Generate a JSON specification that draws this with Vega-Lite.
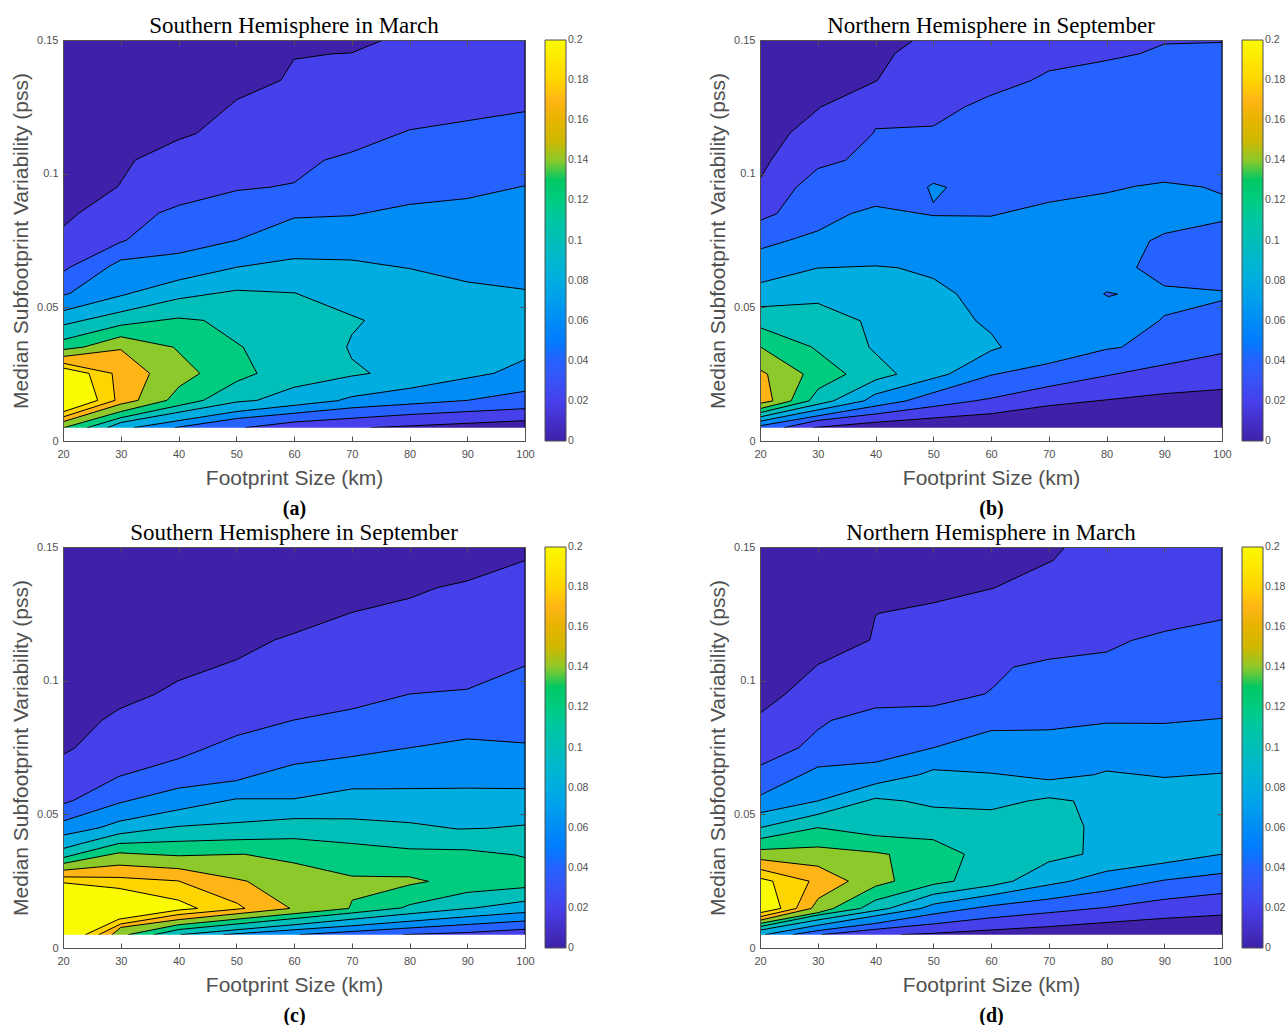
{"$schema":"https://vega.github.io/schema/vega-lite/v6.json","background":"white","padding":{"left":10,"top":15,"right":0,"bottom":0},"bounds":"flush","columns":2,"spacing":{"row":106,"column":235},"resolve":{"scale":{"fill":"independent"},"legend":{"fill":"independent"}},
"config":{"view":{"stroke":null},"axis":{"grid":false,"labelFlush":false,"labelFont":"Liberation Sans","labelFontSize":11,"labelColor":"#505050","titleFont":"Liberation Sans","titleFontSize":21,"titleColor":"#505050","titleFontWeight":"normal","domainColor":"#505050","tickColor":"#505050","domainWidth":1,"tickWidth":1},"title":{"font":"Liberation Serif","fontSize":23,"fontWeight":"normal","color":"black","offset":-4},"legend":{"labelFont":"Liberation Sans","labelFontSize":10.5,"labelColor":"#505050","labelOffset":5}},
"datasets":{
"a":[
{"n":0,"l":0,"x":20,"y":0.15},{"n":0,"l":0,"x":100,"y":0.15},{"n":0,"l":0,"x":100,"y":0},{"n":0,"l":0,"x":20,"y":0},
{"n":1,"l":0.02,"x":20,"y":0.0801},{"n":1,"l":0.02,"x":22.6,"y":0.085},{"n":1,"l":0.02,"x":29.5,"y":0.0952},{"n":1,"l":0.02,"x":32.5,"y":0.1051},{"n":1,"l":0.02,"x":40,"y":0.1127},{"n":1,"l":0.02,"x":43.1,"y":0.115},{"n":1,"l":0.02,"x":50.1,"y":0.1277},{"n":1,"l":0.02,"x":57.7,"y":0.1349},{"n":1,"l":0.02,"x":60,"y":0.1428},{"n":1,"l":0.02,"x":66.5,"y":0.1448},{"n":1,"l":0.02,"x":70,"y":0.1452},{"n":1,"l":0.02,"x":75.4,"y":0.15},{"n":1,"l":0.02,"x":100,"y":0.15},{"n":1,"l":0.02,"x":100,"y":0.0076},{"n":1,"l":0.02,"x":73.4,"y":0.005},{"n":1,"l":0.02,"x":73.4,"y":0},{"n":1,"l":0.02,"x":20,"y":0},
{"n":2,"l":0.04,"x":20,"y":0.0633},{"n":2,"l":0.04,"x":21.2,"y":0.065},{"n":2,"l":0.04,"x":30,"y":0.0744},{"n":2,"l":0.04,"x":31,"y":0.0751},{"n":2,"l":0.04,"x":36.6,"y":0.0853},{"n":2,"l":0.04,"x":40,"y":0.0881},{"n":2,"l":0.04,"x":50.1,"y":0.0937},{"n":2,"l":0.04,"x":56,"y":0.095},{"n":2,"l":0.04,"x":60,"y":0.0966},{"n":2,"l":0.04,"x":65.2,"y":0.105},{"n":2,"l":0.04,"x":70,"y":0.1081},{"n":2,"l":0.04,"x":80,"y":0.1164},{"n":2,"l":0.04,"x":100,"y":0.1232},{"n":2,"l":0.04,"x":100,"y":0.0121},{"n":2,"l":0.04,"x":80,"y":0.0099},{"n":2,"l":0.04,"x":60,"y":0.0071},{"n":2,"l":0.04,"x":51.6,"y":0.005},{"n":2,"l":0.04,"x":51.6,"y":0},{"n":2,"l":0.04,"x":20,"y":0},
{"n":3,"l":0.06,"x":20,"y":0.0545},{"n":3,"l":0.06,"x":21.2,"y":0.0552},{"n":3,"l":0.06,"x":27.9,"y":0.0652},{"n":3,"l":0.06,"x":30,"y":0.0677},{"n":3,"l":0.06,"x":40,"y":0.0702},{"n":3,"l":0.06,"x":50.1,"y":0.0751},{"n":3,"l":0.06,"x":60,"y":0.0834},{"n":3,"l":0.06,"x":70,"y":0.0843},{"n":3,"l":0.06,"x":80,"y":0.0885},{"n":3,"l":0.06,"x":90,"y":0.0907},{"n":3,"l":0.06,"x":100,"y":0.0955},{"n":3,"l":0.06,"x":100,"y":0.0186},{"n":3,"l":0.06,"x":90,"y":0.0152},{"n":3,"l":0.06,"x":70,"y":0.0124},{"n":3,"l":0.06,"x":50.1,"y":0.0084},{"n":3,"l":0.06,"x":39.4,"y":0.005},{"n":3,"l":0.06,"x":39.4,"y":0},{"n":3,"l":0.06,"x":20,"y":0},
{"n":4,"l":0.08,"x":20,"y":0.0487},{"n":4,"l":0.08,"x":30,"y":0.0543},{"n":4,"l":0.08,"x":40,"y":0.0602},{"n":4,"l":0.08,"x":50.1,"y":0.065},{"n":4,"l":0.08,"x":60,"y":0.0682},{"n":4,"l":0.08,"x":70,"y":0.0677},{"n":4,"l":0.08,"x":80,"y":0.0645},{"n":4,"l":0.08,"x":90,"y":0.0595},{"n":4,"l":0.08,"x":100,"y":0.0567},{"n":4,"l":0.08,"x":100,"y":0.0305},{"n":4,"l":0.08,"x":94.6,"y":0.0253},{"n":4,"l":0.08,"x":80,"y":0.0197},{"n":4,"l":0.08,"x":70,"y":0.0166},{"n":4,"l":0.08,"x":67.6,"y":0.0151},{"n":4,"l":0.08,"x":50,"y":0.011},{"n":4,"l":0.08,"x":32.3,"y":0.005},{"n":4,"l":0.08,"x":32.3,"y":0},{"n":4,"l":0.08,"x":20,"y":0},
{"n":5,"l":0.1,"x":20,"y":0.0434},{"n":5,"l":0.1,"x":30,"y":0.0483},{"n":5,"l":0.1,"x":40,"y":0.0532},{"n":5,"l":0.1,"x":50.1,"y":0.0564},{"n":5,"l":0.1,"x":60.2,"y":0.0554},{"n":5,"l":0.1,"x":72.2,"y":0.0451},{"n":5,"l":0.1,"x":70,"y":0.0397},{"n":5,"l":0.1,"x":69.1,"y":0.0351},{"n":5,"l":0.1,"x":70,"y":0.0307},{"n":5,"l":0.1,"x":73.2,"y":0.0253},{"n":5,"l":0.1,"x":70,"y":0.0243},{"n":5,"l":0.1,"x":60,"y":0.0201},{"n":5,"l":0.1,"x":53.6,"y":0.0152},{"n":5,"l":0.1,"x":50.1,"y":0.0146},{"n":5,"l":0.1,"x":30,"y":0.0069},{"n":5,"l":0.1,"x":27.7,"y":0.005},{"n":5,"l":0.1,"x":27.7,"y":0},{"n":5,"l":0.1,"x":20,"y":0},
{"n":6,"l":0.12,"x":20,"y":0.0379},{"n":6,"l":0.12,"x":30,"y":0.0433},{"n":6,"l":0.12,"x":40,"y":0.046},{"n":6,"l":0.12,"x":44.4,"y":0.0451},{"n":6,"l":0.12,"x":51.2,"y":0.0351},{"n":6,"l":0.12,"x":53.6,"y":0.0253},{"n":6,"l":0.12,"x":50.1,"y":0.0223},{"n":6,"l":0.12,"x":44.3,"y":0.0152},{"n":6,"l":0.12,"x":30,"y":0.0087},{"n":6,"l":0.12,"x":24.2,"y":0.005},{"n":6,"l":0.12,"x":24.2,"y":0},{"n":6,"l":0.12,"x":20,"y":0},
{"n":7,"l":0.14,"x":20,"y":0.0342},{"n":7,"l":0.14,"x":23.5,"y":0.0351},{"n":7,"l":0.14,"x":30,"y":0.039},{"n":7,"l":0.14,"x":39.1,"y":0.0351},{"n":7,"l":0.14,"x":43.7,"y":0.0253},{"n":7,"l":0.14,"x":40.1,"y":0.0203},{"n":7,"l":0.14,"x":38,"y":0.0152},{"n":7,"l":0.14,"x":30,"y":0.011},{"n":7,"l":0.14,"x":20.2,"y":0.005},{"n":7,"l":0.14,"x":20.2,"y":0},{"n":7,"l":0.14,"x":20,"y":0},
{"n":8,"l":0.17,"x":20,"y":0.0316},{"n":8,"l":0.17,"x":30,"y":0.0342},{"n":8,"l":0.17,"x":35,"y":0.0253},{"n":8,"l":0.17,"x":33,"y":0.0152},{"n":8,"l":0.17,"x":30,"y":0.0138},{"n":8,"l":0.17,"x":20,"y":0.0072},
{"n":9,"l":0.18,"x":20,"y":0.0291},{"n":9,"l":0.18,"x":28.5,"y":0.0253},{"n":9,"l":0.18,"x":29,"y":0.0152},{"n":9,"l":0.18,"x":20,"y":0.009},
{"n":10,"l":0.2,"x":20,"y":0.0273},{"n":10,"l":0.2,"x":24.5,"y":0.0253},{"n":10,"l":0.2,"x":26,"y":0.0152},{"n":10,"l":0.2,"x":20,"y":0.0109}
],
"b":[
{"n":0,"l":0,"x":20,"y":0.15},{"n":0,"l":0,"x":100,"y":0.15},{"n":0,"l":0,"x":100,"y":0},{"n":0,"l":0,"x":20,"y":0},
{"n":1,"l":0.02,"x":20,"y":0.0981},{"n":1,"l":0.02,"x":21.9,"y":0.105},{"n":1,"l":0.02,"x":25.2,"y":0.1152},{"n":1,"l":0.02,"x":30.5,"y":0.1249},{"n":1,"l":0.02,"x":40.3,"y":0.1348},{"n":1,"l":0.02,"x":43.4,"y":0.145},{"n":1,"l":0.02,"x":46.6,"y":0.15},{"n":1,"l":0.02,"x":100,"y":0.15},{"n":1,"l":0.02,"x":100,"y":0.0193},{"n":1,"l":0.02,"x":90,"y":0.0177},{"n":1,"l":0.02,"x":80,"y":0.0154},{"n":1,"l":0.02,"x":70,"y":0.0132},{"n":1,"l":0.02,"x":60,"y":0.0102},{"n":1,"l":0.02,"x":50,"y":0.0086},{"n":1,"l":0.02,"x":40,"y":0.007},{"n":1,"l":0.02,"x":29.2,"y":0.005},{"n":1,"l":0.02,"x":29.2,"y":0},{"n":1,"l":0.02,"x":20,"y":0},
{"n":2,"l":0.04,"x":20,"y":0.0825},{"n":2,"l":0.04,"x":22.9,"y":0.085},{"n":2,"l":0.04,"x":26.3,"y":0.095},{"n":2,"l":0.04,"x":30,"y":0.1019},{"n":2,"l":0.04,"x":34.8,"y":0.105},{"n":2,"l":0.04,"x":39.5,"y":0.1149},{"n":2,"l":0.04,"x":40,"y":0.1168},{"n":2,"l":0.04,"x":50,"y":0.1178},{"n":2,"l":0.04,"x":55.4,"y":0.1249},{"n":2,"l":0.04,"x":59.7,"y":0.1291},{"n":2,"l":0.04,"x":66.9,"y":0.1348},{"n":2,"l":0.04,"x":70,"y":0.1384},{"n":2,"l":0.04,"x":80,"y":0.1423},{"n":2,"l":0.04,"x":85.8,"y":0.1449},{"n":2,"l":0.04,"x":90,"y":0.1485},{"n":2,"l":0.04,"x":100,"y":0.1491},{"n":2,"l":0.04,"x":100,"y":0.0327},{"n":2,"l":0.04,"x":90,"y":0.0285},{"n":2,"l":0.04,"x":80,"y":0.0244},{"n":2,"l":0.04,"x":70,"y":0.0204},{"n":2,"l":0.04,"x":60,"y":0.016},{"n":2,"l":0.04,"x":57.1,"y":0.015},{"n":2,"l":0.04,"x":50,"y":0.0129},{"n":2,"l":0.04,"x":40,"y":0.0101},{"n":2,"l":0.04,"x":30,"y":0.0077},{"n":2,"l":0.04,"x":24.2,"y":0.005},{"n":2,"l":0.04,"x":24.2,"y":0},{"n":2,"l":0.04,"x":20,"y":0},
{"n":3,"l":0.06,"x":20,"y":0.0718},{"n":3,"l":0.06,"x":25.1,"y":0.0751},{"n":3,"l":0.06,"x":30,"y":0.0786},{"n":3,"l":0.06,"x":35.8,"y":0.0851},{"n":3,"l":0.06,"x":40,"y":0.0878},{"n":3,"l":0.06,"x":50,"y":0.0843},{"n":3,"l":0.06,"x":60,"y":0.0841},{"n":3,"l":0.06,"x":70,"y":0.0893},{"n":3,"l":0.06,"x":80,"y":0.0928},{"n":3,"l":0.06,"x":85,"y":0.0953},{"n":3,"l":0.06,"x":90,"y":0.0968},{"n":3,"l":0.06,"x":96.7,"y":0.095},{"n":3,"l":0.06,"x":100,"y":0.0923},{"n":3,"l":0.06,"x":100,"y":0.0821},{"n":3,"l":0.06,"x":90,"y":0.0776},{"n":3,"l":0.06,"x":87.5,"y":0.0749},{"n":3,"l":0.06,"x":85.2,"y":0.0649},{"n":3,"l":0.06,"x":90,"y":0.058},{"n":3,"l":0.06,"x":100,"y":0.0562},{"n":3,"l":0.06,"x":100,"y":0.0525},{"n":3,"l":0.06,"x":90,"y":0.0469},{"n":3,"l":0.06,"x":89.1,"y":0.045},{"n":3,"l":0.06,"x":82.6,"y":0.035},{"n":3,"l":0.06,"x":80,"y":0.0343},{"n":3,"l":0.06,"x":70,"y":0.029},{"n":3,"l":0.06,"x":60,"y":0.0246},{"n":3,"l":0.06,"x":45.3,"y":0.015},{"n":3,"l":0.06,"x":30,"y":0.0094},{"n":3,"l":0.06,"x":20,"y":0.0057},
{"n":4,"l":0.08,"x":20,"y":0.0592},{"n":4,"l":0.08,"x":30,"y":0.0647},{"n":4,"l":0.08,"x":40,"y":0.0655},{"n":4,"l":0.08,"x":43.9,"y":0.0648},{"n":4,"l":0.08,"x":50,"y":0.0608},{"n":4,"l":0.08,"x":54,"y":0.0551},{"n":4,"l":0.08,"x":57.4,"y":0.0449},{"n":4,"l":0.08,"x":60,"y":0.0403},{"n":4,"l":0.08,"x":61.8,"y":0.035},{"n":4,"l":0.08,"x":60,"y":0.0338},{"n":4,"l":0.08,"x":52.7,"y":0.025},{"n":4,"l":0.08,"x":39.9,"y":0.0175},{"n":4,"l":0.08,"x":38,"y":0.015},{"n":4,"l":0.08,"x":20,"y":0.0074},
{"n":5,"l":0.1,"x":20,"y":0.0502},{"n":5,"l":0.1,"x":30,"y":0.0515},{"n":5,"l":0.1,"x":37.4,"y":0.0449},{"n":5,"l":0.1,"x":38.9,"y":0.035},{"n":5,"l":0.1,"x":43.7,"y":0.025},{"n":5,"l":0.1,"x":40.1,"y":0.0229},{"n":5,"l":0.1,"x":32.7,"y":0.015},{"n":5,"l":0.1,"x":20,"y":0.009},
{"n":6,"l":0.12,"x":20,"y":0.0424},{"n":6,"l":0.12,"x":28.9,"y":0.0352},{"n":6,"l":0.12,"x":34.9,"y":0.025},{"n":6,"l":0.12,"x":30.1,"y":0.0195},{"n":6,"l":0.12,"x":28.5,"y":0.015},{"n":6,"l":0.12,"x":20,"y":0.0106},
{"n":7,"l":0.14,"x":20,"y":0.0353},{"n":7,"l":0.14,"x":27.5,"y":0.025},{"n":7,"l":0.14,"x":25.4,"y":0.015},{"n":7,"l":0.14,"x":20,"y":0.0121},
{"n":8,"l":0.17,"x":20,"y":0.0266},{"n":8,"l":0.17,"x":21.3,"y":0.025},{"n":8,"l":0.17,"x":22.2,"y":0.015},{"n":8,"l":0.17,"x":20,"y":0.0141},
{"n":9,"l":0.06,"x":49,"y":0.095},{"n":9,"l":0.06,"x":50,"y":0.0964},{"n":9,"l":0.06,"x":52.3,"y":0.0949},{"n":9,"l":0.06,"x":50,"y":0.0892},{"n":9,"l":0.06,"x":49,"y":0.095},
{"n":10,"l":0.04,"x":79.5,"y":0.055},{"n":10,"l":0.04,"x":80,"y":0.0558},{"n":10,"l":0.04,"x":81.9,"y":0.0549},{"n":10,"l":0.04,"x":80.3,"y":0.054},{"n":10,"l":0.04,"x":79.5,"y":0.055}
],
"c":[
{"n":0,"l":0,"x":20,"y":0.15},{"n":0,"l":0,"x":100,"y":0.15},{"n":0,"l":0,"x":100,"y":0},{"n":0,"l":0,"x":20,"y":0},
{"n":1,"l":0.02,"x":20,"y":0.0723},{"n":1,"l":0.02,"x":22.1,"y":0.0749},{"n":1,"l":0.02,"x":26.7,"y":0.0851},{"n":1,"l":0.02,"x":29.7,"y":0.0894},{"n":1,"l":0.02,"x":35.8,"y":0.0948},{"n":1,"l":0.02,"x":40,"y":0.1},{"n":1,"l":0.02,"x":50,"y":0.1078},{"n":1,"l":0.02,"x":56.6,"y":0.1152},{"n":1,"l":0.02,"x":60,"y":0.1177},{"n":1,"l":0.02,"x":70,"y":0.1255},{"n":1,"l":0.02,"x":80,"y":0.1308},{"n":1,"l":0.02,"x":84.8,"y":0.1348},{"n":1,"l":0.02,"x":90,"y":0.1373},{"n":1,"l":0.02,"x":100,"y":0.1449},{"n":1,"l":0.02,"x":100,"y":0},{"n":1,"l":0.02,"x":20,"y":0},
{"n":2,"l":0.04,"x":20,"y":0.0539},{"n":2,"l":0.04,"x":21.8,"y":0.0552},{"n":2,"l":0.04,"x":29.7,"y":0.0642},{"n":2,"l":0.04,"x":40,"y":0.0708},{"n":2,"l":0.04,"x":44.9,"y":0.0749},{"n":2,"l":0.04,"x":50,"y":0.0794},{"n":2,"l":0.04,"x":60,"y":0.0853},{"n":2,"l":0.04,"x":70,"y":0.0894},{"n":2,"l":0.04,"x":80,"y":0.095},{"n":2,"l":0.04,"x":84.8,"y":0.0959},{"n":2,"l":0.04,"x":90,"y":0.0968},{"n":2,"l":0.04,"x":100,"y":0.1055},{"n":2,"l":0.04,"x":100,"y":0.007},{"n":2,"l":0.04,"x":90,"y":0.0058},{"n":2,"l":0.04,"x":78.9,"y":0.005},{"n":2,"l":0.04,"x":78.9,"y":0},{"n":2,"l":0.04,"x":20,"y":0},
{"n":3,"l":0.06,"x":20,"y":0.0475},{"n":3,"l":0.06,"x":29.7,"y":0.0542},{"n":3,"l":0.06,"x":40,"y":0.0598},{"n":3,"l":0.06,"x":50,"y":0.0626},{"n":3,"l":0.06,"x":60,"y":0.0687},{"n":3,"l":0.06,"x":70,"y":0.0716},{"n":3,"l":0.06,"x":80,"y":0.0749},{"n":3,"l":0.06,"x":90,"y":0.0782},{"n":3,"l":0.06,"x":100,"y":0.0767},{"n":3,"l":0.06,"x":100,"y":0.0101},{"n":3,"l":0.06,"x":90,"y":0.0088},{"n":3,"l":0.06,"x":61,"y":0.005},{"n":3,"l":0.06,"x":61,"y":0},{"n":3,"l":0.06,"x":20,"y":0},
{"n":4,"l":0.08,"x":20,"y":0.0422},{"n":4,"l":0.08,"x":26.4,"y":0.045},{"n":4,"l":0.08,"x":29.7,"y":0.0474},{"n":4,"l":0.08,"x":40,"y":0.0517},{"n":4,"l":0.08,"x":50,"y":0.0558},{"n":4,"l":0.08,"x":60,"y":0.0558},{"n":4,"l":0.08,"x":70,"y":0.0595},{"n":4,"l":0.08,"x":80,"y":0.0596},{"n":4,"l":0.08,"x":90,"y":0.0598},{"n":4,"l":0.08,"x":100,"y":0.0596},{"n":4,"l":0.08,"x":100,"y":0.0133},{"n":4,"l":0.08,"x":90,"y":0.0117},{"n":4,"l":0.08,"x":70,"y":0.0083},{"n":4,"l":0.08,"x":47.8,"y":0.005},{"n":4,"l":0.08,"x":47.8,"y":0},{"n":4,"l":0.08,"x":20,"y":0},
{"n":5,"l":0.1,"x":20,"y":0.0372},{"n":5,"l":0.1,"x":23.2,"y":0.0391},{"n":5,"l":0.1,"x":29.7,"y":0.0427},{"n":5,"l":0.1,"x":40,"y":0.0455},{"n":5,"l":0.1,"x":50,"y":0.0469},{"n":5,"l":0.1,"x":60,"y":0.0484},{"n":5,"l":0.1,"x":70,"y":0.0483},{"n":5,"l":0.1,"x":80,"y":0.0469},{"n":5,"l":0.1,"x":88.3,"y":0.0445},{"n":5,"l":0.1,"x":93.6,"y":0.0448},{"n":5,"l":0.1,"x":100,"y":0.046},{"n":5,"l":0.1,"x":100,"y":0.0175},{"n":5,"l":0.1,"x":91.4,"y":0.015},{"n":5,"l":0.1,"x":80,"y":0.0128},{"n":5,"l":0.1,"x":60,"y":0.0087},{"n":5,"l":0.1,"x":40.4,"y":0.005},{"n":5,"l":0.1,"x":40.4,"y":0},{"n":5,"l":0.1,"x":20,"y":0},
{"n":6,"l":0.12,"x":20,"y":0.0338},{"n":6,"l":0.12,"x":29.7,"y":0.0391},{"n":6,"l":0.12,"x":40,"y":0.0399},{"n":6,"l":0.12,"x":50,"y":0.0405},{"n":6,"l":0.12,"x":60,"y":0.0409},{"n":6,"l":0.12,"x":70,"y":0.0391},{"n":6,"l":0.12,"x":80,"y":0.0371},{"n":6,"l":0.12,"x":90,"y":0.0367},{"n":6,"l":0.12,"x":98.3,"y":0.0348},{"n":6,"l":0.12,"x":100,"y":0.0338},{"n":6,"l":0.12,"x":100,"y":0.0226},{"n":6,"l":0.12,"x":90,"y":0.0208},{"n":6,"l":0.12,"x":80,"y":0.0162},{"n":6,"l":0.12,"x":78.6,"y":0.015},{"n":6,"l":0.12,"x":70,"y":0.0131},{"n":6,"l":0.12,"x":60,"y":0.011},{"n":6,"l":0.12,"x":40,"y":0.0069},{"n":6,"l":0.12,"x":35.8,"y":0.005},{"n":6,"l":0.12,"x":35.8,"y":0},{"n":6,"l":0.12,"x":20,"y":0},
{"n":7,"l":0.14,"x":20,"y":0.0316},{"n":7,"l":0.14,"x":29.7,"y":0.0356},{"n":7,"l":0.14,"x":40,"y":0.0345},{"n":7,"l":0.14,"x":51.4,"y":0.0351},{"n":7,"l":0.14,"x":60,"y":0.0318},{"n":7,"l":0.14,"x":70,"y":0.0269},{"n":7,"l":0.14,"x":80,"y":0.0266},{"n":7,"l":0.14,"x":83.3,"y":0.0249},{"n":7,"l":0.14,"x":80,"y":0.0236},{"n":7,"l":0.14,"x":70.1,"y":0.0179},{"n":7,"l":0.14,"x":69.5,"y":0.0148},{"n":7,"l":0.14,"x":40,"y":0.0087},{"n":7,"l":0.14,"x":31.3,"y":0.005},{"n":7,"l":0.14,"x":31.3,"y":0},{"n":7,"l":0.14,"x":20,"y":0},
{"n":8,"l":0.17,"x":20,"y":0.0291},{"n":8,"l":0.17,"x":29.7,"y":0.031},{"n":8,"l":0.17,"x":40,"y":0.0297},{"n":8,"l":0.17,"x":49.6,"y":0.026},{"n":8,"l":0.17,"x":51.9,"y":0.025},{"n":8,"l":0.17,"x":59.3,"y":0.0148},{"n":8,"l":0.17,"x":40,"y":0.0106},{"n":8,"l":0.17,"x":30,"y":0.0077},{"n":8,"l":0.17,"x":28.5,"y":0.005},{"n":8,"l":0.17,"x":28.5,"y":0},{"n":8,"l":0.17,"x":20,"y":0},
{"n":9,"l":0.18,"x":20,"y":0.0266},{"n":9,"l":0.18,"x":29.7,"y":0.0264},{"n":9,"l":0.18,"x":40,"y":0.0251},{"n":9,"l":0.18,"x":50.2,"y":0.0167},{"n":9,"l":0.18,"x":51.5,"y":0.0148},{"n":9,"l":0.18,"x":40,"y":0.0125},{"n":9,"l":0.18,"x":30,"y":0.009},{"n":9,"l":0.18,"x":26.2,"y":0.005},{"n":9,"l":0.18,"x":26.2,"y":0},{"n":9,"l":0.18,"x":20,"y":0},
{"n":10,"l":0.2,"x":20,"y":0.0244},{"n":10,"l":0.2,"x":29.7,"y":0.0223},{"n":10,"l":0.2,"x":40,"y":0.0179},{"n":10,"l":0.2,"x":43.3,"y":0.0148},{"n":10,"l":0.2,"x":40,"y":0.0142},{"n":10,"l":0.2,"x":29.7,"y":0.0108},{"n":10,"l":0.2,"x":23.9,"y":0.005},{"n":10,"l":0.2,"x":23.9,"y":0},{"n":10,"l":0.2,"x":20,"y":0}
],
"d":[
{"n":0,"l":0,"x":20,"y":0.15},{"n":0,"l":0,"x":100,"y":0.15},{"n":0,"l":0,"x":100,"y":0},{"n":0,"l":0,"x":20,"y":0},
{"n":1,"l":0.02,"x":20,"y":0.0878},{"n":1,"l":0.02,"x":24.4,"y":0.095},{"n":1,"l":0.02,"x":30,"y":0.106},{"n":1,"l":0.02,"x":39,"y":0.1152},{"n":1,"l":0.02,"x":40,"y":0.1243},{"n":1,"l":0.02,"x":40.6,"y":0.1252},{"n":1,"l":0.02,"x":50,"y":0.1291},{"n":1,"l":0.02,"x":60.5,"y":0.1346},{"n":1,"l":0.02,"x":70.8,"y":0.145},{"n":1,"l":0.02,"x":72.8,"y":0.15},{"n":1,"l":0.02,"x":100,"y":0.15},{"n":1,"l":0.02,"x":100,"y":0.0123},{"n":1,"l":0.02,"x":90,"y":0.0111},{"n":1,"l":0.02,"x":70,"y":0.008},{"n":1,"l":0.02,"x":50,"y":0.0055},{"n":1,"l":0.02,"x":44.4,"y":0.005},{"n":1,"l":0.02,"x":44.4,"y":0},{"n":1,"l":0.02,"x":20,"y":0},
{"n":2,"l":0.04,"x":20,"y":0.0683},{"n":2,"l":0.04,"x":26.7,"y":0.0749},{"n":2,"l":0.04,"x":30,"y":0.0816},{"n":2,"l":0.04,"x":32.3,"y":0.0851},{"n":2,"l":0.04,"x":40,"y":0.0898},{"n":2,"l":0.04,"x":50,"y":0.0905},{"n":2,"l":0.04,"x":58.9,"y":0.095},{"n":2,"l":0.04,"x":60.2,"y":0.0971},{"n":2,"l":0.04,"x":63.9,"y":0.1051},{"n":2,"l":0.04,"x":70,"y":0.108},{"n":2,"l":0.04,"x":80,"y":0.1107},{"n":2,"l":0.04,"x":84.3,"y":0.115},{"n":2,"l":0.04,"x":90,"y":0.1184},{"n":2,"l":0.04,"x":100,"y":0.1228},{"n":2,"l":0.04,"x":100,"y":0.0204},{"n":2,"l":0.04,"x":90,"y":0.0182},{"n":2,"l":0.04,"x":80,"y":0.0152},{"n":2,"l":0.04,"x":70,"y":0.0132},{"n":2,"l":0.04,"x":60,"y":0.0113},{"n":2,"l":0.04,"x":50,"y":0.009},{"n":2,"l":0.04,"x":40,"y":0.007},{"n":2,"l":0.04,"x":30.8,"y":0.005},{"n":2,"l":0.04,"x":30.8,"y":0},{"n":2,"l":0.04,"x":20,"y":0},
{"n":3,"l":0.06,"x":20,"y":0.0571},{"n":3,"l":0.06,"x":30,"y":0.0677},{"n":3,"l":0.06,"x":40,"y":0.0695},{"n":3,"l":0.06,"x":50,"y":0.0749},{"n":3,"l":0.06,"x":60,"y":0.0813},{"n":3,"l":0.06,"x":70,"y":0.0816},{"n":3,"l":0.06,"x":80,"y":0.0841},{"n":3,"l":0.06,"x":90,"y":0.084},{"n":3,"l":0.06,"x":100,"y":0.0859},{"n":3,"l":0.06,"x":100,"y":0.0279},{"n":3,"l":0.06,"x":90,"y":0.0254},{"n":3,"l":0.06,"x":80,"y":0.0214},{"n":3,"l":0.06,"x":70,"y":0.0183},{"n":3,"l":0.06,"x":60,"y":0.0158},{"n":3,"l":0.06,"x":50,"y":0.0127},{"n":3,"l":0.06,"x":40,"y":0.0092},{"n":3,"l":0.06,"x":30,"y":0.0065},{"n":3,"l":0.06,"x":25.7,"y":0.005},{"n":3,"l":0.06,"x":25.7,"y":0},{"n":3,"l":0.06,"x":20,"y":0},
{"n":4,"l":0.08,"x":20,"y":0.0506},{"n":4,"l":0.08,"x":30,"y":0.055},{"n":4,"l":0.08,"x":40,"y":0.0614},{"n":4,"l":0.08,"x":47.7,"y":0.0649},{"n":4,"l":0.08,"x":50,"y":0.0667},{"n":4,"l":0.08,"x":60,"y":0.0654},{"n":4,"l":0.08,"x":70,"y":0.0629},{"n":4,"l":0.08,"x":77.8,"y":0.0648},{"n":4,"l":0.08,"x":80,"y":0.0662},{"n":4,"l":0.08,"x":90,"y":0.0638},{"n":4,"l":0.08,"x":100,"y":0.0654},{"n":4,"l":0.08,"x":100,"y":0.0351},{"n":4,"l":0.08,"x":90,"y":0.0318},{"n":4,"l":0.08,"x":80,"y":0.0287},{"n":4,"l":0.08,"x":73.7,"y":0.025},{"n":4,"l":0.08,"x":70,"y":0.0236},{"n":4,"l":0.08,"x":60,"y":0.0198},{"n":4,"l":0.08,"x":50,"y":0.0164},{"n":4,"l":0.08,"x":47.9,"y":0.0148},{"n":4,"l":0.08,"x":30,"y":0.0085},{"n":4,"l":0.08,"x":20.9,"y":0.005},{"n":4,"l":0.08,"x":20.9,"y":0},{"n":4,"l":0.08,"x":20,"y":0},
{"n":5,"l":0.1,"x":20,"y":0.045},{"n":5,"l":0.1,"x":30,"y":0.05},{"n":5,"l":0.1,"x":40,"y":0.056},{"n":5,"l":0.1,"x":45,"y":0.055},{"n":5,"l":0.1,"x":50,"y":0.0527},{"n":5,"l":0.1,"x":60,"y":0.0517},{"n":5,"l":0.1,"x":66.4,"y":0.055},{"n":5,"l":0.1,"x":70,"y":0.0562},{"n":5,"l":0.1,"x":74.3,"y":0.055},{"n":5,"l":0.1,"x":76.1,"y":0.0453},{"n":5,"l":0.1,"x":75.9,"y":0.0351},{"n":5,"l":0.1,"x":70,"y":0.0322},{"n":5,"l":0.1,"x":63.8,"y":0.025},{"n":5,"l":0.1,"x":60,"y":0.0233},{"n":5,"l":0.1,"x":50,"y":0.0201},{"n":5,"l":0.1,"x":42.4,"y":0.0148},{"n":5,"l":0.1,"x":30,"y":0.0105},{"n":5,"l":0.1,"x":20,"y":0.0067},
{"n":6,"l":0.12,"x":20,"y":0.0409},{"n":6,"l":0.12,"x":30,"y":0.045},{"n":6,"l":0.12,"x":40,"y":0.042},{"n":6,"l":0.12,"x":50,"y":0.0405},{"n":6,"l":0.12,"x":55.4,"y":0.0351},{"n":6,"l":0.12,"x":53.6,"y":0.025},{"n":6,"l":0.12,"x":50,"y":0.0238},{"n":6,"l":0.12,"x":40,"y":0.0179},{"n":6,"l":0.12,"x":37.4,"y":0.0148},{"n":6,"l":0.12,"x":30,"y":0.0123},{"n":6,"l":0.12,"x":20,"y":0.008},
{"n":7,"l":0.14,"x":20,"y":0.0368},{"n":7,"l":0.14,"x":30,"y":0.0378},{"n":7,"l":0.14,"x":40,"y":0.0358},{"n":7,"l":0.14,"x":42.4,"y":0.035},{"n":7,"l":0.14,"x":43.3,"y":0.025},{"n":7,"l":0.14,"x":40,"y":0.0231},{"n":7,"l":0.14,"x":32.7,"y":0.0148},{"n":7,"l":0.14,"x":30,"y":0.0132},{"n":7,"l":0.14,"x":20,"y":0.0092},
{"n":8,"l":0.17,"x":20,"y":0.0331},{"n":8,"l":0.17,"x":30,"y":0.0306},{"n":8,"l":0.17,"x":35.3,"y":0.025},{"n":8,"l":0.17,"x":30.1,"y":0.0185},{"n":8,"l":0.17,"x":28.9,"y":0.0148},{"n":8,"l":0.17,"x":20,"y":0.0104},
{"n":9,"l":0.18,"x":20,"y":0.0294},{"n":9,"l":0.18,"x":28.5,"y":0.025},{"n":9,"l":0.18,"x":26.3,"y":0.0148},{"n":9,"l":0.18,"x":20,"y":0.0117},
{"n":10,"l":0.2,"x":20,"y":0.0261},{"n":10,"l":0.2,"x":22.2,"y":0.025},{"n":10,"l":0.2,"x":23.6,"y":0.0148},{"n":10,"l":0.2,"x":20,"y":0.0132}
]},
"concat":[
{"title":"Southern Hemisphere in March","width":462,"height":401,"resolve":{"axis":{"x":"independent","y":"independent"}},"layer":[
{"data":{"name":"a"},"mark":{"type":"line","stroke":"black","strokeWidth":1,"clip":true},"encoding":{"x":{"field":"x","type":"quantitative","scale":{"domain":[20,100],"nice":false,"zero":false},"axis":{"values":[20,30,40,50,60,70,80,90,100],"tickSize":-5,"labelPadding":12,"title":"Footprint Size (km)","titlePadding":8,"zindex":1}},"y":{"field":"y","type":"quantitative","scale":{"domain":[0,0.15],"nice":false},"axis":{"values":[0,0.05,0.1,0.15],"format":".2~f","tickSize":-5,"labelPadding":10,"title":"Median Subfootprint Variability (pss)","titlePadding":5,"zindex":1}},"fill":{"field":"l","type":"quantitative","scale":{"domain":[0,0.02,0.04,0.05,0.06,0.08,0.1,0.12,0.13,0.14,0.15,0.16,0.17,0.18,0.2],"range":["#3e21a8","#4640eb","#2662ff","#007cff","#008cf5","#00ade0","#00beb8","#00cc80","#00c864","#8dc92b","#d0b800","#e6b400","#ffb515","#ffd500","#fafa00"]},"legend":{"orient":"none","legendX":482,"legendY":0,"title":null,"gradientLength":401,"gradientThickness":21,"gradientStrokeColor":"#505050","gradientStrokeWidth":1,"values":[0,0.02,0.04,0.06,0.08,0.1,0.12,0.14,0.16,0.18,0.2],"format":".2~f","labelOverlap":false,"encode":{"labels":{"update":{"baseline":{"value":"middle"}}}}}},"detail":{"field":"n"},"order":{"value":null}}},
{"data":{"values":[{}]},"mark":{"type":"rect","fill":"white"},"encoding":{"x":{"datum":20,"type":"quantitative","axis":null},"x2":{"datum":100},"y":{"datum":0,"type":"quantitative","axis":null},"y2":{"datum":0.005}}},
{"data":{"values":[{}]},"mark":{"type":"point","opacity":0},"encoding":{"x":{"datum":20,"type":"quantitative","axis":{"orient":"top","values":[20,30,40,50,60,70,80,90,100],"tickSize":-5,"labels":false,"title":null,"zindex":1}},"y":{"datum":0,"type":"quantitative","axis":{"orient":"right","values":[0,0.05,0.1,0.15],"tickSize":-5,"labels":false,"title":null,"zindex":1}}}},
{"data":{"values":[{}]},"mark":{"type":"point","opacity":0},"encoding":{"x":{"datum":20,"type":"quantitative","axis":{"orient":"bottom","domain":false,"ticks":false,"labels":false,"title":"(a)","titleFont":"Liberation Serif","titleFontSize":20,"titleFontWeight":"bold","titleColor":"black","titlePadding":57}},"y":{"datum":0,"type":"quantitative","axis":null}}}
]},
{"title":"Northern Hemisphere in September","width":462,"height":401,"resolve":{"axis":{"x":"independent","y":"independent"}},"layer":[
{"data":{"name":"b"},"mark":{"type":"line","stroke":"black","strokeWidth":1,"clip":true},"encoding":{"x":{"field":"x","type":"quantitative","scale":{"domain":[20,100],"nice":false,"zero":false},"axis":{"values":[20,30,40,50,60,70,80,90,100],"tickSize":-5,"labelPadding":12,"title":"Footprint Size (km)","titlePadding":8,"zindex":1}},"y":{"field":"y","type":"quantitative","scale":{"domain":[0,0.15],"nice":false},"axis":{"values":[0,0.05,0.1,0.15],"format":".2~f","tickSize":-5,"labelPadding":10,"title":"Median Subfootprint Variability (pss)","titlePadding":5,"zindex":1}},"fill":{"field":"l","type":"quantitative","scale":{"domain":[0,0.02,0.04,0.05,0.06,0.08,0.1,0.12,0.13,0.14,0.15,0.16,0.17,0.18,0.2],"range":["#3e21a8","#4640eb","#2662ff","#007cff","#008cf5","#00ade0","#00beb8","#00cc80","#00c864","#8dc92b","#d0b800","#e6b400","#ffb515","#ffd500","#fafa00"]},"legend":{"orient":"none","legendX":482,"legendY":0,"title":null,"gradientLength":401,"gradientThickness":21,"gradientStrokeColor":"#505050","gradientStrokeWidth":1,"values":[0,0.02,0.04,0.06,0.08,0.1,0.12,0.14,0.16,0.18,0.2],"format":".2~f","labelOverlap":false,"encode":{"labels":{"update":{"baseline":{"value":"middle"}}}}}},"detail":{"field":"n"},"order":{"value":null}}},
{"data":{"values":[{}]},"mark":{"type":"rect","fill":"white"},"encoding":{"x":{"datum":20,"type":"quantitative","axis":null},"x2":{"datum":100},"y":{"datum":0,"type":"quantitative","axis":null},"y2":{"datum":0.005}}},
{"data":{"values":[{}]},"mark":{"type":"point","opacity":0},"encoding":{"x":{"datum":20,"type":"quantitative","axis":{"orient":"top","values":[20,30,40,50,60,70,80,90,100],"tickSize":-5,"labels":false,"title":null,"zindex":1}},"y":{"datum":0,"type":"quantitative","axis":{"orient":"right","values":[0,0.05,0.1,0.15],"tickSize":-5,"labels":false,"title":null,"zindex":1}}}},
{"data":{"values":[{}]},"mark":{"type":"point","opacity":0},"encoding":{"x":{"datum":20,"type":"quantitative","axis":{"orient":"bottom","domain":false,"ticks":false,"labels":false,"title":"(b)","titleFont":"Liberation Serif","titleFontSize":20,"titleFontWeight":"bold","titleColor":"black","titlePadding":57}},"y":{"datum":0,"type":"quantitative","axis":null}}}
]},
{"title":"Southern Hemisphere in September","width":462,"height":401,"resolve":{"axis":{"x":"independent","y":"independent"}},"layer":[
{"data":{"name":"c"},"mark":{"type":"line","stroke":"black","strokeWidth":1,"clip":true},"encoding":{"x":{"field":"x","type":"quantitative","scale":{"domain":[20,100],"nice":false,"zero":false},"axis":{"values":[20,30,40,50,60,70,80,90,100],"tickSize":-5,"labelPadding":12,"title":"Footprint Size (km)","titlePadding":8,"zindex":1}},"y":{"field":"y","type":"quantitative","scale":{"domain":[0,0.15],"nice":false},"axis":{"values":[0,0.05,0.1,0.15],"format":".2~f","tickSize":-5,"labelPadding":10,"title":"Median Subfootprint Variability (pss)","titlePadding":5,"zindex":1}},"fill":{"field":"l","type":"quantitative","scale":{"domain":[0,0.02,0.04,0.05,0.06,0.08,0.1,0.12,0.13,0.14,0.15,0.16,0.17,0.18,0.2],"range":["#3e21a8","#4640eb","#2662ff","#007cff","#008cf5","#00ade0","#00beb8","#00cc80","#00c864","#8dc92b","#d0b800","#e6b400","#ffb515","#ffd500","#fafa00"]},"legend":{"orient":"none","legendX":482,"legendY":0,"title":null,"gradientLength":401,"gradientThickness":21,"gradientStrokeColor":"#505050","gradientStrokeWidth":1,"values":[0,0.02,0.04,0.06,0.08,0.1,0.12,0.14,0.16,0.18,0.2],"format":".2~f","labelOverlap":false,"encode":{"labels":{"update":{"baseline":{"value":"middle"}}}}}},"detail":{"field":"n"},"order":{"value":null}}},
{"data":{"values":[{}]},"mark":{"type":"rect","fill":"white"},"encoding":{"x":{"datum":20,"type":"quantitative","axis":null},"x2":{"datum":100},"y":{"datum":0,"type":"quantitative","axis":null},"y2":{"datum":0.005}}},
{"data":{"values":[{}]},"mark":{"type":"point","opacity":0},"encoding":{"x":{"datum":20,"type":"quantitative","axis":{"orient":"top","values":[20,30,40,50,60,70,80,90,100],"tickSize":-5,"labels":false,"title":null,"zindex":1}},"y":{"datum":0,"type":"quantitative","axis":{"orient":"right","values":[0,0.05,0.1,0.15],"tickSize":-5,"labels":false,"title":null,"zindex":1}}}},
{"data":{"values":[{}]},"mark":{"type":"point","opacity":0},"encoding":{"x":{"datum":20,"type":"quantitative","axis":{"orient":"bottom","domain":false,"ticks":false,"labels":false,"title":"(c)","titleFont":"Liberation Serif","titleFontSize":20,"titleFontWeight":"bold","titleColor":"black","titlePadding":57}},"y":{"datum":0,"type":"quantitative","axis":null}}}
]},
{"title":"Northern Hemisphere in March","width":462,"height":401,"resolve":{"axis":{"x":"independent","y":"independent"}},"layer":[
{"data":{"name":"d"},"mark":{"type":"line","stroke":"black","strokeWidth":1,"clip":true},"encoding":{"x":{"field":"x","type":"quantitative","scale":{"domain":[20,100],"nice":false,"zero":false},"axis":{"values":[20,30,40,50,60,70,80,90,100],"tickSize":-5,"labelPadding":12,"title":"Footprint Size (km)","titlePadding":8,"zindex":1}},"y":{"field":"y","type":"quantitative","scale":{"domain":[0,0.15],"nice":false},"axis":{"values":[0,0.05,0.1,0.15],"format":".2~f","tickSize":-5,"labelPadding":10,"title":"Median Subfootprint Variability (pss)","titlePadding":5,"zindex":1}},"fill":{"field":"l","type":"quantitative","scale":{"domain":[0,0.02,0.04,0.05,0.06,0.08,0.1,0.12,0.13,0.14,0.15,0.16,0.17,0.18,0.2],"range":["#3e21a8","#4640eb","#2662ff","#007cff","#008cf5","#00ade0","#00beb8","#00cc80","#00c864","#8dc92b","#d0b800","#e6b400","#ffb515","#ffd500","#fafa00"]},"legend":{"orient":"none","legendX":482,"legendY":0,"title":null,"gradientLength":401,"gradientThickness":21,"gradientStrokeColor":"#505050","gradientStrokeWidth":1,"values":[0,0.02,0.04,0.06,0.08,0.1,0.12,0.14,0.16,0.18,0.2],"format":".2~f","labelOverlap":false,"encode":{"labels":{"update":{"baseline":{"value":"middle"}}}}}},"detail":{"field":"n"},"order":{"value":null}}},
{"data":{"values":[{}]},"mark":{"type":"rect","fill":"white"},"encoding":{"x":{"datum":20,"type":"quantitative","axis":null},"x2":{"datum":100},"y":{"datum":0,"type":"quantitative","axis":null},"y2":{"datum":0.005}}},
{"data":{"values":[{}]},"mark":{"type":"point","opacity":0},"encoding":{"x":{"datum":20,"type":"quantitative","axis":{"orient":"top","values":[20,30,40,50,60,70,80,90,100],"tickSize":-5,"labels":false,"title":null,"zindex":1}},"y":{"datum":0,"type":"quantitative","axis":{"orient":"right","values":[0,0.05,0.1,0.15],"tickSize":-5,"labels":false,"title":null,"zindex":1}}}},
{"data":{"values":[{}]},"mark":{"type":"point","opacity":0},"encoding":{"x":{"datum":20,"type":"quantitative","axis":{"orient":"bottom","domain":false,"ticks":false,"labels":false,"title":"(d)","titleFont":"Liberation Serif","titleFontSize":20,"titleFontWeight":"bold","titleColor":"black","titlePadding":57}},"y":{"datum":0,"type":"quantitative","axis":null}}}
]}
]}
